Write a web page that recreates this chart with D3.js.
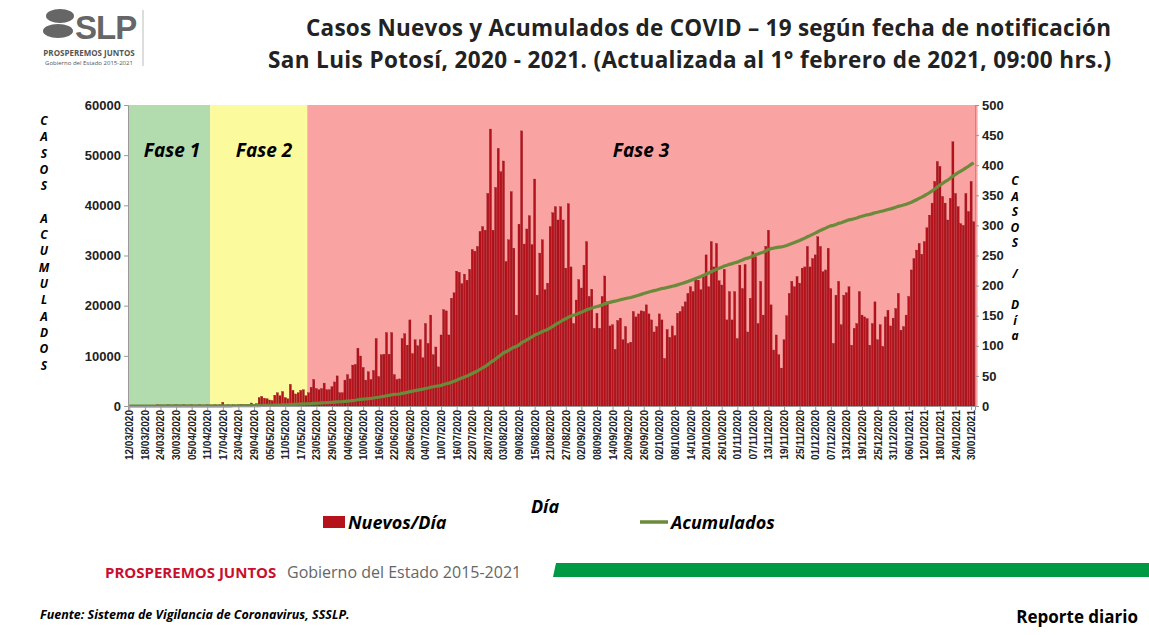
<!DOCTYPE html>
<html><head><meta charset="utf-8">
<script src="https://cdn.jsdelivr.net/npm/d3@7"></script>
<style>body{margin:0;background:#fff;font-family:"Open Sans",Arial,sans-serif}</style>
</head><body><svg id="c" width="1149" height="635"></svg>
<script>
const startDate = "2020-03-12";
const phases = [{name:"Fase 1",from:0,to:31.6,color:"#b2dbae"},{name:"Fase 2",from:31.6,to:69,color:"#fbfb9e"},{name:"Fase 3",from:69,to:327,color:"#f9a3a3"}];
const leftTicks = [0,10000,20000,30000,40000,50000,60000];
const rightTicks = [0,50,100,150,200,250,300,350,400,450,500];
const daily = [
0,0,0,0,1,0,0,1,0,1,0,2,1,0,1,2,1,0,2,1,1,2,1,0,2,1,1,2,1,1,2,1,
1,2,1,2,6,1,2,1,2,1,2,3,2,3,2,5,3,4,14,16,13,12,10,9,18,22,17,24,14,12,36,26,20,22,26,27,17,
22,31,44,29,27,29,38,27,27,32,40,50,22,22,43,52,45,68,69,96,83,64,43,57,44,59,112,49,85,86,122,86,122,52,44,45,112,120,101,143,87,110,100,
110,80,137,104,151,85,98,65,118,160,158,118,179,188,224,222,203,219,209,227,260,257,265,290,298,292,353,460,292,363,428,389,407,240,276,356,262,151,302,457,269,294,316,268,377,184,254,276,193,204,298,321,331,309,331,309,229,336,231,137,176,210,196,234,273,182,194,129,154,129,182,216,173,133,135,94,142,146,110,132,104,106,157,148,153,158,157,168,153,143,123,132,153,143,79,127,114,133,117,154,157,165,173,187,198,190,212,209,193,215,
251,198,273,231,270,208,201,227,143,190,143,190,112,234,195,235,123,179,256,248,137,207,151,265,292,168,93,118,85,63,110,150,187,207,198,215,204,229,231,265,231,245,251,281,265,223,226,262,195,104,184,207,135,184,188,198,101,129,137,190,151,148,145,101,137,173,110,135,99,148,159,133,146,162,187,126,132,151,182,226,245,259,270,252,273,296,317,337,373,406,398,348,337,309,345,439,353,331,303,300,353,323,373,306];
const cumulative = d3.cumsum(daily);
const fmt = d3.timeFormat("%d/%m/%Y");
const t0 = new Date(2020,2,12);
const dates = daily.map((d,i)=>d3.timeDay.offset(t0,i));

const svg = d3.select("#c");
const L=128,R=975,T=105,B=406;
const x = d3.scaleLinear().domain([-0.5,daily.length-0.5]).range([L,R]);
const yL = d3.scaleLinear().domain([0,60000]).range([B,T]);
const yR = d3.scaleLinear().domain([0,500]).range([B,T]);

// logo
svg.append("ellipse").attr("cx",60).attr("cy",16).attr("rx",14).attr("ry",7).attr("fill","#666");
svg.append("ellipse").attr("cx",58).attr("cy",31).attr("rx",15).attr("ry",7).attr("fill","#666");
svg.append("text").attr("x",75).attr("y",39).attr("font-size",33).attr("font-weight",900).attr("fill","#666").attr("font-family","Arial").attr("letter-spacing",-1).text("SLP");
svg.append("text").attr("x",89).attr("y",56).attr("text-anchor","middle").attr("font-size",8).attr("font-weight",700).attr("fill","#555").text("PROSPEREMOS JUNTOS");
svg.append("text").attr("x",89).attr("y",65).attr("text-anchor","middle").attr("font-size",6).attr("fill","#555").text("Gobierno del Estado 2015-2021");
svg.append("line").attr("x1",143).attr("x2",143).attr("y1",10).attr("y2",66).attr("stroke","#bbb");

// title
svg.append("text").attr("x",1111).attr("y",36).attr("text-anchor","end").attr("font-size",22.5).attr("font-weight",700).attr("fill","#222").attr("textLength",805).text("Casos Nuevos y Acumulados de COVID – 19 según fecha de notificación");
svg.append("text").attr("x",1111).attr("y",68).attr("text-anchor","end").attr("font-size",22.5).attr("font-weight",700).attr("fill","#222").attr("textLength",843).text("San Luis Potosí, 2020 - 2021. (Actualizada al 1° febrero de 2021, 09:00 hrs.)");

// phases
phases.forEach(p=>{
  svg.append("rect").attr("x",x(p.from-0.5)).attr("y",T).attr("width",x(p.to-0.5)-x(p.from-0.5)).attr("height",B-T).attr("fill",p.color);
});
svg.append("text").attr("x",172).attr("y",157).attr("text-anchor","middle").attr("font-size",19).attr("font-style","italic").attr("font-weight",700).text(phases[0].name);
svg.append("text").attr("x",264).attr("y",157).attr("text-anchor","middle").attr("font-size",19).attr("font-style","italic").attr("font-weight",700).text(phases[1].name);
svg.append("text").attr("x",641).attr("y",157).attr("text-anchor","middle").attr("font-size",19).attr("font-style","italic").attr("font-weight",700).text(phases[2].name);

// bars
const bw = (R-L)/daily.length;
svg.append("g").selectAll("rect").data(daily).join("rect")
 .attr("x",(d,i)=>x(i)-bw*0.4).attr("width",bw*0.8)
 .attr("y",d=>yR(d)).attr("height",d=>B-yR(d)).attr("fill","#b5121b").attr("stroke","#8a0d14").attr("stroke-width",0.3);

// line
svg.append("path").datum(cumulative).attr("fill","none").attr("stroke","#6b8a3a").attr("stroke-width",3.2)
 .attr("d",d3.line().x((d,i)=>x(i)).y(d=>yL(d)));

// axes
const ga = svg.append("g").attr("transform",`translate(${L},0)`).call(d3.axisLeft(yL).tickValues(leftTicks).tickSize(4).tickFormat(d3.format("d")));
const gb = svg.append("g").attr("transform",`translate(${R},0)`).call(d3.axisRight(yR).tickValues(rightTicks).tickSize(4));
[ga,gb].forEach(g=>{g.selectAll("text").attr("font-size",13).attr("font-weight",700).attr("fill","#222");g.selectAll("line,path").attr("stroke","#999");});
const tickIdx = d3.range(0,daily.length,6);
const gx = svg.append("g").attr("transform",`translate(0,${B})`).call(d3.axisBottom(x).tickValues(tickIdx).tickSize(4).tickFormat(i=>fmt(dates[i])));
gx.selectAll("line,path").attr("stroke","#999");
gx.selectAll("text").attr("font-size",10).attr("font-weight",700).attr("fill","#222")
  .attr("text-anchor","end").attr("dx","-0.4em").attr("dy","0.35em").attr("x",0).attr("y",0)
  .attr("transform","rotate(-90)");

// vertical axis titles
const lt = "CASOS ACUMULADOS".split("");
lt.forEach((c,i)=>svg.append("text").attr("x",44).attr("y",125+i*16.3).attr("text-anchor","middle").attr("font-size",12).attr("font-style","italic").attr("font-weight",700).text(c));
const rt = ["C","A","S","O","S"," ","/"," ","D","í","a"];
rt.forEach((c,i)=>svg.append("text").attr("x",1015).attr("y",185+i*15.5).attr("text-anchor","middle").attr("font-size",12).attr("font-style","italic").attr("font-weight",700).text(c));

svg.append("text").attr("x",545).attr("y",513).attr("text-anchor","middle").attr("font-size",18).attr("font-style","italic").attr("font-weight",700).text("Día");
// legend
svg.append("rect").attr("x",323).attr("y",516).attr("width",22).attr("height",12).attr("fill","#b5121b");
svg.append("text").attr("x",348).attr("y",529).attr("font-size",18).attr("font-style","italic").attr("font-weight",700).text("Nuevos/Día");
svg.append("line").attr("x1",640).attr("x2",668).attr("y1",522).attr("y2",522).attr("stroke","#6b8a3a").attr("stroke-width",3.5);
svg.append("text").attr("x",671).attr("y",529).attr("font-size",18).attr("font-style","italic").attr("font-weight",700).text("Acumulados");

// footer
svg.append("text").attr("x",105).attr("y",578).attr("font-size",15).attr("font-weight",700).attr("fill","#c8102e").text("PROSPEREMOS JUNTOS");
svg.append("text").attr("x",287).attr("y",578).attr("font-size",16).attr("fill","#666").text("Gobierno del Estado 2015-2021");
svg.append("path").attr("d","M556,563 L1149,563 L1149,577 L553,577 Z").attr("fill","#009a44");
svg.append("text").attr("x",40).attr("y",619).attr("font-size",12.5).attr("font-style","italic").attr("font-weight",700).text("Fuente: Sistema de Vigilancia de Coronavirus, SSSLP.");
svg.append("text").attr("x",1138).attr("y",623).attr("text-anchor","end").attr("font-size",17).attr("font-weight",700).text("Reporte diario");
</script></body></html>
